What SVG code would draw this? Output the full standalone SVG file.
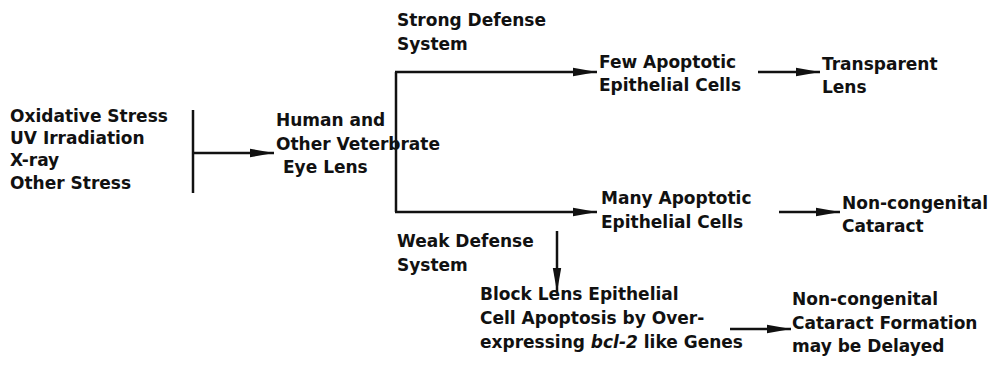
<svg xmlns="http://www.w3.org/2000/svg" width="989" height="367" viewBox="0 0 989 367">
<defs>
<style>
text{font-family:"DejaVu Sans","Liberation Sans",sans-serif;font-weight:bold;font-size:17px;fill:#111}
.ln{stroke:#111;stroke-width:2.5;fill:none}
.ar{stroke:#111;stroke-width:2.5;fill:none;marker-end:url(#ah)}
</style>
<marker id="ah" markerWidth="26" markerHeight="10" refX="24" refY="5" orient="auto" markerUnits="userSpaceOnUse">
<path d="M0,0.8 L24,5 L0,9.2 Z" fill="#111"/>
</marker>
</defs>
<rect width="989" height="367" fill="#fff"/>
<g id="connectors">
<line class="ln" x1="193" y1="110" x2="193" y2="193"/>
<line class="ar" x1="193" y1="153" x2="274" y2="153"/>
<polyline class="ln" points="396,72 396,212"/>
<line class="ar" x1="395" y1="72" x2="597" y2="72"/>
<line class="ar" x1="395" y1="212" x2="597" y2="212"/>
<line class="ar" x1="758" y1="72" x2="820" y2="72"/>
<line class="ar" x1="779" y1="212" x2="840" y2="212"/>
<line class="ar" x1="557" y1="231" x2="557" y2="292"/>
<line class="ar" x1="730" y1="329" x2="791" y2="329"/>
</g>
<g id="stress">
<text x="10" y="122">Oxidative Stress</text>
<text x="10" y="144">UV Irradiation</text>
<text x="10" y="166">X-ray</text>
<text x="10" y="189">Other Stress</text>
</g>
<g id="lens">
<text x="276" y="126">Human and</text>
<text x="276" y="150">Other Veterbrate</text>
<text x="283" y="173">Eye Lens</text>
</g>
<g id="strong">
<text x="397" y="26">Strong Defense</text>
<text x="397" y="50">System</text>
</g>
<g id="few">
<text x="599" y="68">Few Apoptotic</text>
<text x="599" y="91">Epithelial Cells</text>
</g>
<g id="transparent">
<text x="822" y="70">Transparent</text>
<text x="822" y="93">Lens</text>
</g>
<g id="many">
<text x="601" y="204">Many Apoptotic</text>
<text x="601" y="228">Epithelial Cells</text>
</g>
<g id="cataract">
<text x="842" y="209">Non-congenital</text>
<text x="842" y="232">Cataract</text>
</g>
<g id="weak">
<text x="397" y="247">Weak Defense</text>
<text x="397" y="271">System</text>
</g>
<g id="block">
<text x="480" y="300">Block Lens Epithelial</text>
<text x="480" y="324">Cell Apoptosis by Over-</text>
<text x="480" y="348">expressing <tspan font-style="italic">bcl-2</tspan> like Genes</text>
</g>
<g id="delayed">
<text x="792" y="305">Non-congenital</text>
<text x="792" y="329">Cataract Formation</text>
<text x="792" y="352">may be Delayed</text>
</g>
</svg>
